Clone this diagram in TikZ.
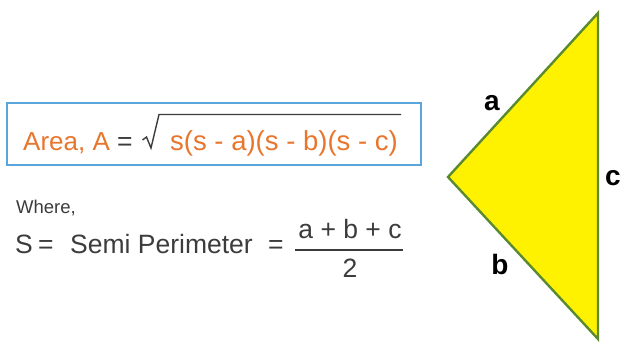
\documentclass[tikz,border=0pt]{standalone}
\usepackage{fontspec}
\setmainfont{Liberation Sans}
\definecolor{orangetxt}{HTML}{E8762C}
\definecolor{graytxt}{HTML}{3C3C3C}
\definecolor{boxblue}{HTML}{5AA5DC}
\definecolor{trigreen}{HTML}{5B8A2E}
\begin{document}
\begin{tikzpicture}[x=1pt,y=-1pt,
  orng/.style={inner sep=0pt, anchor=base west, text=orangetxt, font=\fontsize{26}{28}\selectfont},
  gry/.style={inner sep=0pt, anchor=base west, text=graytxt, font=\fontsize{26.5}{28}\selectfont},
  sidelbl/.style={inner sep=0pt, font=\fontsize{28}{30}\selectfont\bfseries, text=black}]
\useasboundingbox (0,0) rectangle (620,342);
\fill[white] (0,0) rectangle (620,342);
% formula box
\draw[boxblue, line width=1.8pt] (7,103) rectangle (421,165);
\node[orng] (area) at (23,150) {Area, A};
\node[gry] (eq1) at (117,150) {=};
\draw[graytxt, line width=1.4pt, line join=miter] (142.5,140) -- (146.5,137) -- (151,148) -- (159,114.5) -- (401,114.5);
\node[orng, font=\fontsize{27.5}{30}\selectfont] (rad) at (170,150) {s(s - a)(s - b)(s - c)};
% where
\node[inner sep=0pt, anchor=base west, text=graytxt, font=\fontsize{18.5}{20}\selectfont] (where) at (16,213) {Where,};
\node[gry] (S) at (15,253) {S};
\node[gry] (eq2) at (38,253) {=};
\node[gry] (semi) at (70,253) {Semi Perimeter};
\node[gry] (eq3) at (268,253) {=};
\draw[graytxt, line width=1.2pt] (295,250) -- (403,250);
\node[gry, anchor=base] (num) at (350,238) {a + b + c};
\node[gry, anchor=base] (den) at (350,277) {2};
% triangle
\coordinate (T) at (598,13);
\coordinate (L) at (448,177);
\coordinate (B) at (598,339);
\filldraw[fill=yellow, draw=trigreen, line width=2.4pt, line join=miter] (T) -- (L) -- (B) -- cycle;
\node[sidelbl] (la) at (492,103) {a};
\node[sidelbl] (lb) at (500,264) {b};
\node[sidelbl] (lc) at (613,178) {c};
\end{tikzpicture}
\end{document}
